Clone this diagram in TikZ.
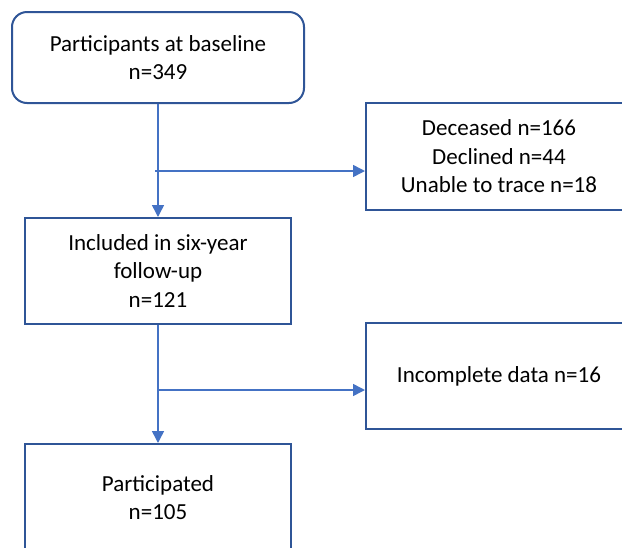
\documentclass[tikz,border=0pt]{standalone}
\usepackage{fontspec}
\setmainfont{Carlito}
\usetikzlibrary{arrows.meta}
\definecolor{boxblue}{HTML}{2F5597}
\definecolor{linkblue}{HTML}{4472C4}
\begin{document}
\begin{tikzpicture}[x=1pt,y=-1pt,
  every node/.style={font=\fontsize{23}{28.5}\selectfont, align=center, inner sep=0pt},
  stepbox/.style={draw=boxblue, line width=2pt, fill=white, rectangle},
  conn/.style={draw=linkblue, line width=1.5pt, -{Triangle[length=12pt,width=12pt]}}]
\path[use as bounding box, clip] (0,0) rectangle (622,547);
\node[stepbox, rounded corners=15pt, minimum width=292pt, minimum height=91pt] (b1) at (158,57.5) {Participants at baseline\\n=349};
\node[stepbox, minimum width=266pt, minimum height=107pt] (b2) at (499,156.5) {Deceased n=166\\Declined n=44\\Unable to trace n=18};
\node[stepbox, minimum width=266pt, minimum height=106pt] (b3) at (158,271) {Included in six-year\\follow-up\\n=121};
\node[stepbox, minimum width=266pt, minimum height=106pt] (b4) at (499,376) {Incomplete data n=16};
\node[stepbox, minimum width=266pt, minimum height=107pt] (b5) at (158,497.5) {Participated\\n=105};
\coordinate (j1) at (155,171);
\coordinate (j2) at (157,390);
\draw[conn] (b1.south) -- (b3.north);
\draw[conn] (j1) -- (j1 -| b2.west);
\draw[conn] (b3.south) -- (b5.north);
\draw[conn] (j2) -- (j2 -| b4.west);
\end{tikzpicture}
\end{document}
